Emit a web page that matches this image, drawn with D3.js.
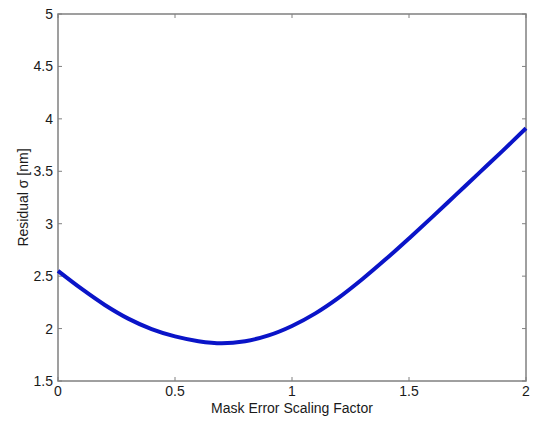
<!DOCTYPE html>
<html><head><meta charset="utf-8">
<script src="https://cdn.jsdelivr.net/npm/d3@7"></script>
<style>body{margin:0;background:#fff;}svg{display:block;font-family:"Liberation Sans",Arial,sans-serif;}</style>
</head><body>
<svg id="c" width="536" height="422"></svg>
<script>
const xValues = [0,0.1,0.2,0.3,0.4,0.5,0.6,0.7,0.8,0.9,1.0,1.1,1.2,1.3,1.4,1.5,1.6,1.7,1.8,1.9,2.0];
const residual = [2.55,2.38,2.225,2.095,1.995,1.925,1.88,1.86,1.88,1.935,2.025,2.145,2.295,2.47,2.66,2.86,3.065,3.275,3.485,3.695,3.91];
const xTicks = [0,0.5,1,1.5,2];
const yTicks = [1.5,2,2.5,3,3.5,4,4.5,5];
const xLabel = "Mask Error Scaling Factor";
const yLabel = "Residual σ [nm]";

const L=58,R=526,T=14,B=381;
const svg=d3.select("#c");
const x=d3.scaleLinear().domain([0,2]).range([L,R]);
const y=d3.scaleLinear().domain([1.5,5]).range([B,T]);
const axCol="#808080", txtCol="#1a1a1a", tl=4;

// frame
svg.append("rect").attr("x",L).attr("y",T).attr("width",R-L).attr("height",B-T)
  .attr("fill","none").attr("stroke",axCol).attr("stroke-width",1.5);

// ticks inside
const g=svg.append("g").attr("stroke",axCol).attr("stroke-width",1);
xTicks.forEach(t=>{
  g.append("line").attr("x1",x(t)).attr("x2",x(t)).attr("y1",B).attr("y2",B-tl);
  g.append("line").attr("x1",x(t)).attr("x2",x(t)).attr("y1",T).attr("y2",T+tl);
});
yTicks.forEach(t=>{
  g.append("line").attr("x1",L).attr("x2",L+tl).attr("y1",y(t)).attr("y2",y(t));
  g.append("line").attr("x1",R).attr("x2",R-tl).attr("y1",y(t)).attr("y2",y(t));
});

// tick labels
svg.append("g").selectAll("text").data(xTicks).join("text")
  .attr("x",d=>x(d)).attr("y",B+15).attr("text-anchor","middle")
  .attr("font-size",14).attr("fill",txtCol).text(d=>d);
svg.append("g").selectAll("text").data(yTicks).join("text")
  .attr("x",L-5).attr("y",d=>y(d)+5).attr("text-anchor","end")
  .attr("font-size",14).attr("fill",txtCol).text(d=>d);

// axis labels
svg.append("text").attr("x",(L+R)/2).attr("y",413).attr("text-anchor","middle")
  .attr("font-size",14).attr("fill",txtCol).text(xLabel);
svg.append("text").attr("transform",`translate(28,${(T+B)/2}) rotate(-90)`)
  .attr("text-anchor","middle").attr("font-size",14).attr("fill",txtCol).text(yLabel);

// curve
const line=d3.line().x((d,i)=>x(xValues[i])).y(d=>y(d)).curve(d3.curveCatmullRom);
svg.append("path").datum(residual).attr("d",line).attr("fill","none")
  .attr("stroke","#0a14c8").attr("stroke-width",4).attr("stroke-linejoin","round");
</script>
</body></html>
